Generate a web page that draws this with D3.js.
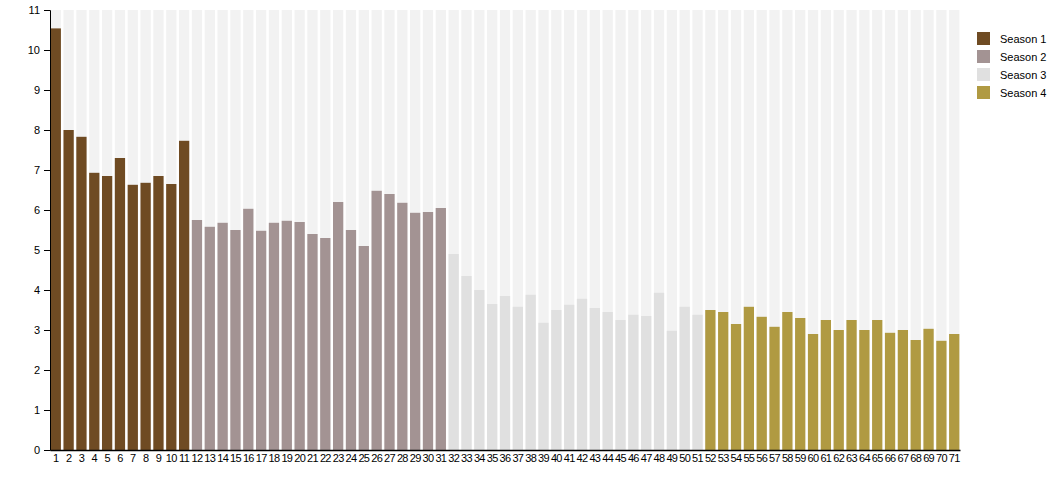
<!DOCTYPE html>
<html>
<head>
<meta charset="utf-8">
<script src="https://cdn.jsdelivr.net/npm/d3@7"></script>
<style>
  body { margin: 0; background: #fff; }
  svg { display: block; font-family: "Liberation Sans", Arial, sans-serif; }
</style>
</head>
<body>
<div id="svgContainer"></div>
<script>
const seasons = ["Season 1", "Season 2", "Season 3", "Season 4"];
const colors = ["#6f4b23", "#a39393", "#e0e0e0", "#b09a42"];
// episode ratings per season
const season1 = [10.54, 8.0, 7.83, 6.93, 6.85, 7.3, 6.63, 6.68, 6.85, 6.65, 7.73];
const season2 = [5.75, 5.58, 5.68, 5.5, 6.03, 5.48, 5.68, 5.73, 5.7, 5.4, 5.3, 6.2, 5.5, 5.1,
  6.48, 6.4, 6.18, 5.93, 5.95, 6.05];
const season3 = [4.9, 4.35, 4.0, 3.65, 3.85, 3.58, 3.88, 3.18, 3.5, 3.63, 3.78, 3.55, 3.45, 3.25,
  3.38, 3.35, 3.93, 2.98, 3.58, 3.38];
const season4 = [3.5, 3.45, 3.15, 3.58, 3.33, 3.08, 3.45, 3.3, 2.9, 3.25, 3.0, 3.25, 3.0, 3.25,
  2.93, 3.0, 2.75, 3.03, 2.73, 2.9];
const yTicks = d3.range(0, 12);

// flatten into one row per episode
let episodes = [];
[season1, season2, season3, season4].forEach((vals, s) => {
  vals.forEach(v => {
    episodes.push({ ep: episodes.length + 1, season: s, value: v });
  });
});

const width = 1060;
const height = 500;
const margin = { top: 10, right: 100, bottom: 50, left: 50 };
const innerW = width - margin.left - margin.right;
const innerH = height - margin.top - margin.bottom;

const svg = d3.select("#svgContainer").append("svg")
  .attr("width", width)
  .attr("height", height);

const g = svg.append("g")
  .attr("transform", `translate(${margin.left},${margin.top})`);

const x = d3.scaleBand()
  .domain(episodes.map(d => d.ep))
  .range([0, innerW])
  .paddingInner(0.2)
  .paddingOuter(0.05);

const y = d3.scaleLinear()
  .domain([0, 11])
  .range([innerH, 0]);

// full-height background bars
g.selectAll(".bg")
  .data(episodes)
  .join("rect")
  .attr("class", "bg")
  .attr("x", d => x(d.ep))
  .attr("y", y(11))
  .attr("width", x.bandwidth())
  .attr("height", innerH)
  .attr("fill", "#f2f2f2");

g.selectAll(".bar")
  .data(episodes)
  .join("rect")
  .attr("class", "bar")
  .attr("x", d => x(d.ep))
  .attr("y", d => y(d.value))
  .attr("width", x.bandwidth())
  .attr("height", d => innerH - y(d.value))
  .attr("fill", d => colors[d.season]);

// x axis
const xAxis = g.append("g")
  .attr("transform", `translate(0,${innerH})`)
  .call(d3.axisBottom(x).tickSize(0).tickPadding(4));
xAxis.select(".domain").attr("stroke", "#000").attr("stroke-width", 1.5);
xAxis.selectAll("text").attr("font-size", "11px").attr("fill", "#000")
  .attr("letter-spacing", "-0.7px")
  .attr("font-family", "Liberation Sans, Arial, sans-serif");

// y axis
const yAxis = g.append("g")
  .call(d3.axisLeft(y).tickValues(yTicks).tickSize(6).tickSizeOuter(6).tickPadding(4));
yAxis.select(".domain").attr("stroke", "#000");
yAxis.selectAll("text").attr("font-size", "11px").attr("fill", "#000")
  .attr("font-family", "Liberation Sans, Arial, sans-serif");

// legend
const legend = svg.append("g")
  .attr("transform", `translate(${width - margin.right + 17},32)`);
seasons.forEach((s, i) => {
  const row = legend.append("g").attr("transform", `translate(0,${i * 18})`);
  row.append("rect")
    .attr("width", 13)
    .attr("height", 13)
    .attr("fill", colors[i]);
  row.append("text")
    .attr("x", 23)
    .attr("y", 10.5)
    .attr("font-size", "11px")
    .attr("fill", "#000")
    .text(s);
});
</script>
</body>
</html>
